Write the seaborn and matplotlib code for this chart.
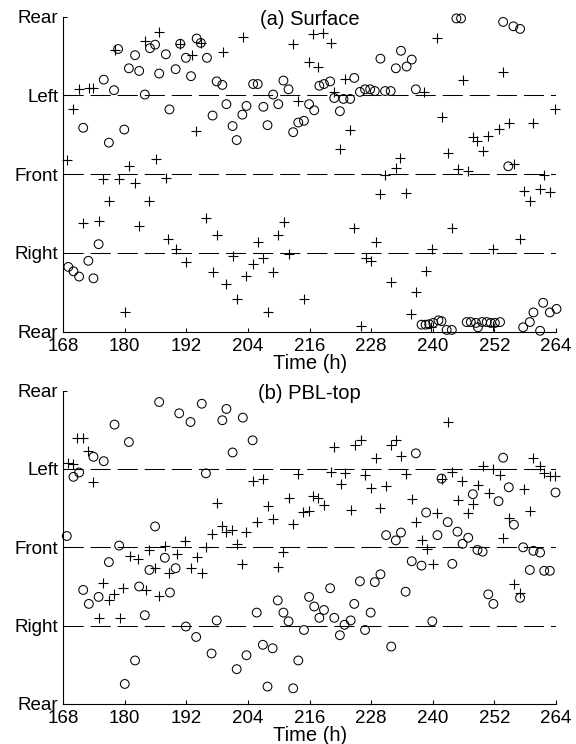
import matplotlib
matplotlib.use("Agg")
import matplotlib.pyplot as plt
import seaborn as sns
import pandas as pd

# Relative direction (deg): 0 = Rear, 90 = Right, 180 = Front, 270 = Left, 360 = Rear
dir_ticks = [0, 90, 180, 270, 360]
dir_labels = ["Rear", "Right", "Front", "Left", "Rear"]
time_ticks = [168, 180, 192, 204, 216, 228, 240, 252, 264]

# (a) Surface
surf_plus_t = [186.7, 183.9, 178.0, 190.8, 193.0, 171.0, 173.1, 173.9, 170.0, 193.9,
               168.8, 186.0, 180.9, 175.8, 178.9, 182.0, 188.0, 176.9, 184.8, 171.9,
               175.0, 182.8, 188.5, 189.9, 191.9, 180.0, 203.1, 212.8, 216.7, 199.1,
               215.9, 217.6, 194.8, 213.8, 195.9, 197.9, 211.0, 209.9, 205.9, 201.1,
               207.0, 205.0, 211.9, 197.1, 203.7, 208.9, 199.8, 201.8, 214.9, 207.8,
               218.7, 220.1, 240.8, 222.8, 220.8, 238.2, 241.7, 223.9, 221.9, 233.7,
               232.8, 230.7, 229.8, 234.8, 224.7, 228.9, 227.0, 228.0, 239.8, 238.7,
               231.9, 236.7, 235.8, 226.0, 245.9, 253.7, 263.9, 254.9, 252.8, 250.8,
               247.8, 248.7, 249.8, 259.6, 243.0, 245.0, 246.9, 255.8, 261.7, 257.8,
               258.9, 260.9, 262.8, 243.8, 257.0, 251.8, 251.8, 239.7]
surf_plus_dir = [342, 332, 322, 329, 316, 277, 279, 279, 254, 229,
                 196, 197, 189, 175, 175, 170, 176, 149, 149, 124,
                 126, 121, 106, 95, 80, 22, 337, 329, 340, 320,
                 308, 303, 330, 264, 130, 111, 125, 111, 102, 87,
                 84, 77, 89, 68, 64, 68, 55, 37, 37, 22,
                 341, 330, 336, 289, 274, 274, 245, 230, 209, 198,
                 187, 179, 157, 159, 119, 102, 84, 81, 94, 69,
                 57, 45, 20, 6, 288, 297, 255, 239, 232, 224,
                 223, 218, 207, 239, 204, 186, 184, 192, 179, 161,
                 149, 163, 160, 119, 106, 95, 6, 5]

surf_o_t = [178.7, 182.0, 184.9, 185.9, 190.8, 188.0, 191.9, 180.8, 182.8, 186.7,
            189.9, 192.9, 175.9, 177.9, 183.9, 188.7, 171.9, 179.9, 176.9, 174.9,
            172.9, 169.0, 170.0, 171.1, 173.9, 194.0, 194.8, 196.0, 197.9, 199.0,
            205.0, 205.9, 210.9, 211.9, 208.9, 199.8, 203.7, 207.0, 209.9, 197.1,
            202.9, 201.0, 207.8, 201.8, 212.8, 213.8, 214.9, 215.9, 216.9, 217.9,
            218.8, 220.0, 224.7, 233.8, 229.8, 235.9, 234.9, 232.8, 225.8, 226.8,
            227.8, 228.7, 230.7, 231.8, 236.7, 220.8, 222.6, 223.9, 221.9, 237.8,
            238.6, 239.3, 240.1, 241.1, 241.7, 242.7, 243.7, 246.6, 247.4, 248.4,
            248.8, 249.6, 250.5, 251.3, 252.1, 253.1, 257.6, 258.9, 260.9, 259.6,
            261.5, 262.8, 264.1, 244.6, 245.5, 253.7, 255.7, 257.0, 254.7]
surf_o_dir = [323, 316, 324, 328, 329, 317, 313, 301, 298, 295,
              300, 292, 288, 276, 271, 254, 233, 231, 216, 100,
              81, 74, 69, 63, 61, 335, 330, 313, 286, 282,
              283, 283, 287, 277, 271, 260, 258, 257, 260, 247,
              248, 235, 236, 219, 228, 239, 241, 260, 253, 281,
              283, 286, 290, 321, 312, 311, 303, 301, 274, 277,
              277, 275, 275, 275, 277, 267, 266, 266, 252, 8,
              8, 8.5, 10, 13, 12, 2, 2, 11, 11, 10,
              5, 11, 11, 10, 10, 11, 5, 11, 1, 22,
              33, 22, 26, 358, 358, 354, 349, 346, 189]

# (b) PBL-top
pbl_plus_t = [170.6, 171.8, 172.9, 169.0, 170.0, 173.9, 181.0, 182.6, 184.8, 187.8,
              190.1, 191.7, 185.9, 188.7, 192.8, 175.8, 177.0, 177.9, 179.7, 184.1,
              186.7, 175.0, 179.1, 204.9, 207.0, 213.8, 197.9, 207.8, 211.9, 216.7,
              205.7, 208.9, 212.8, 214.8, 215.9, 198.9, 200.8, 199.8, 203.7, 196.9,
              195.9, 201.8, 194.0, 195.0, 202.9, 210.9, 209.9, 220.8, 224.8, 226.0,
              231.9, 232.8, 228.9, 233.8, 220.1, 222.8, 226.8, 234.8, 222.1, 227.9,
              230.9, 217.7, 218.8, 224.0, 229.8, 235.9, 236.7, 240.9, 237.8, 238.8,
              240.0, 242.9, 241.7, 243.8, 249.8, 251.8, 253.0, 259.6, 260.8, 261.7,
              262.8, 263.9, 245.6, 248.9, 251.0, 257.8, 245.0, 247.9, 246.9, 258.9,
              254.8, 253.7, 255.8, 257.0]
pbl_plus_dir = [306, 306, 291, 277, 276, 255, 170, 167, 177, 181,
                172, 187, 156, 151, 156, 139, 119, 126, 133, 131,
                124, 99, 99, 256, 259, 264, 231, 227, 237, 239,
                209, 212, 207, 221, 222, 204, 200, 198, 198, 195,
                180, 184, 169, 151, 161, 175, 157, 295, 298, 303,
                298, 303, 283, 285, 267, 265, 263, 264, 253, 248,
                250, 237, 229, 223, 225, 236, 209, 220, 188, 178,
                161, 324, 259, 267, 273, 270, 263, 283, 274, 265,
                262, 262, 256, 252, 242, 247, 234, 230, 220, 222,
                214, 191, 138, 128]

pbl_o_t = [186.7, 190.6, 192.8, 178.0, 180.8, 173.9, 175.9, 170.0, 171.1, 168.7,
           185.9, 178.9, 176.9, 187.8, 184.8, 189.9, 171.9, 173.0, 174.9, 182.8,
           188.8, 183.9, 191.9, 193.9, 182.0, 180.0, 195.0, 199.8, 199.0, 203.0,
           204.9, 201.0, 195.8, 197.9, 196.9, 201.8, 203.7, 205.7, 206.9, 208.8,
           209.8, 210.9, 211.9, 207.8, 212.8, 213.8, 214.9, 215.9, 216.9, 236.7,
           238.7, 240.9, 230.9, 232.8, 233.8, 235.9, 237.8, 229.8, 228.7, 225.8,
           220.0, 234.7, 217.9, 218.8, 220.8, 222.8, 224.0, 221.9, 224.7, 227.9,
           226.8, 231.9, 239.9, 253.7, 241.7, 254.8, 263.9, 247.8, 252.8, 242.9,
           255.8, 244.8, 246.9, 245.8, 248.7, 249.7, 257.6, 259.6, 260.9, 243.8,
           258.9, 261.7, 262.8, 250.8, 251.8, 257.0]
pbl_o_dir = [347, 334, 324, 321, 301, 284, 279, 261, 266, 193,
             204, 182, 163, 168, 154, 156, 131, 115, 123, 135,
             128, 102, 89, 77, 50, 23, 345, 339, 326, 329,
             303, 289, 265, 96, 58, 40, 56, 105, 68, 64,
             119, 105, 95, 20, 18, 50, 85, 123, 112, 288,
             220, 194, 194, 188, 197, 164, 159, 149, 140, 141,
             133, 129, 99, 108, 99, 91, 96, 79, 115, 105,
             85, 66, 95, 283, 259, 249, 243, 241, 233, 209,
             206, 198, 191, 184, 177, 175, 180, 176, 174, 161,
             154, 153, 153, 126, 115, 122]

panels = [
    ("(a) Surface", surf_plus_t, surf_plus_dir, surf_o_t, surf_o_dir),
    ("(b) PBL-top", pbl_plus_t, pbl_plus_dir, pbl_o_t, pbl_o_dir),
]

sns.set_style("ticks")
plt.rcParams["font.family"] = ["Liberation Sans", "DejaVu Sans"]
plt.rcParams["lines.scale_dashes"] = False

fig = plt.figure(figsize=(5.76, 7.44), dpi=100)
axes_rects = [
    [0.1097, 0.5542, 0.8556, 0.4234],
    [0.1097, 0.0538, 0.8556, 0.4211],
]

for rect, (title, pt, pdir, ot, odir) in zip(axes_rects, panels):
    ax = fig.add_axes(rect)
    plus_df = pd.DataFrame({"t": pt, "dir": pdir})
    o_df = pd.DataFrame({"t": ot, "dir": odir})

    # reference directions as long dashes
    for level in dir_ticks[1:4]:
        ax.axhline(level, color="black", lw=0.75, ls=(0, (14.5, 5.0)), zorder=1)

    sns.scatterplot(data=o_df, x="t", y="dir", ax=ax, marker="o", s=40,
                    color="black", facecolors="none", edgecolors="black",
                    linewidths=0.75, clip_on=False, zorder=3, legend=False)
    sns.scatterplot(data=plus_df, x="t", y="dir", ax=ax, marker="+", s=55,
                    color="black", linewidths=0.8, clip_on=False, zorder=3,
                    legend=False)

    ax.set_xlim(168, 264)
    ax.set_ylim(0, 360)
    ax.set_xticks(time_ticks)
    ax.set_xticklabels([str(v) for v in time_ticks])
    ax.set_yticks(dir_ticks)
    ax.set_yticklabels(dir_labels)
    ax.set_xlabel("")
    ax.set_ylabel("")
    ax.tick_params(axis="both", direction="in", length=3, width=0.75,
                   labelsize=13.5, colors="black")
    ax.tick_params(axis="x", pad=4.5)
    ax.tick_params(axis="y", pad=3.5)
    for side in ("top", "right"):
        ax.spines[side].set_visible(False)
    for side in ("left", "bottom"):
        ax.spines[side].set_linewidth(0.8)
        ax.spines[side].set_color("black")
    ax.set_facecolor("none")

    ax.text(0.5, 0.972, title, transform=ax.transAxes, ha="center",
            va="baseline", fontsize=14.5, color="black")
    ax.text(0.5, -0.117, "Time (h)", transform=ax.transAxes, ha="center",
            va="baseline", fontsize=14.5, color="black")

fig.savefig("out.png", dpi=100)
